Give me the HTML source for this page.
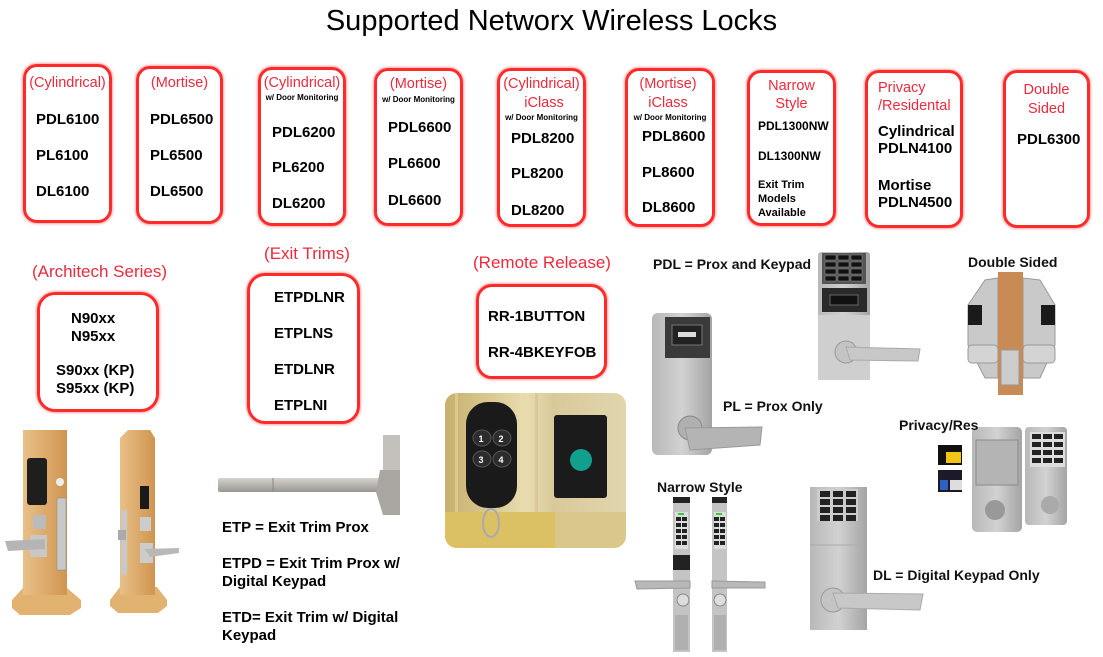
<!DOCTYPE html>
<html><head><meta charset="utf-8">
<style>
html,body{margin:0;padding:0;background:#fff}
#pg{position:relative;width:1103px;height:657px;overflow:hidden;background:#fff;font-family:"Liberation Sans",Arial,sans-serif}
.box{position:absolute;box-sizing:border-box;border:3px solid #ff2b2b;border-radius:14px;box-shadow:0 0 2px 1px rgba(255,90,90,.55)}
.t{position:absolute;white-space:nowrap;line-height:20px;font-family:"Liberation Sans",Arial,sans-serif}
.b{font-weight:bold;font-size:15px;color:#000}
.r{color:#ec2a3c;font-size:14.5px;text-align:center}
.s{font-weight:bold;font-size:8px;color:#000;text-align:center}
.sec{color:#ec2a3c;font-size:17px;text-align:center}
.k{font-weight:bold;font-size:14px;color:#111}
svg{position:absolute;left:0;top:0}
</style></head><body>
<div id="pg">
<svg width="1103" height="657" viewBox="0 0 1103 657">
<defs>
<linearGradient id="wood" x1="0" x2="1" y1="0" y2="0"><stop offset="0" stop-color="#e9c088"/><stop offset="1" stop-color="#d09550"/></linearGradient>
<linearGradient id="bar" x1="0" x2="0" y1="0" y2="1"><stop offset="0" stop-color="#d6d2ce"/><stop offset="1" stop-color="#9a9692"/></linearGradient>
<linearGradient id="metal" x1="0" x2="1" y1="0" y2="0"><stop offset="0" stop-color="#b8b8b8"/><stop offset=".5" stop-color="#d2d2d2"/><stop offset="1" stop-color="#a4a4a4"/></linearGradient>
<linearGradient id="gold" x1="0" x2="1" y1="0" y2="0"><stop offset="0" stop-color="#c8b06c"/><stop offset=".45" stop-color="#e8dcb0"/><stop offset=".6" stop-color="#d9c99a"/><stop offset="1" stop-color="#e2d6ae"/></linearGradient>
<clipPath id="rc"><rect x="445" y="393" width="181" height="155" rx="12"/></clipPath>
</defs>

<!-- wood lock left -->
<polygon points="12,600 23,588 67,588 81,600 81,608 70,615 20,615 12,608" fill="#e2b271"/>
<rect x="23" y="430" width="44" height="165" fill="url(#wood)"/>
<rect x="27" y="458" width="20" height="47" rx="3" fill="#1e1e1e"/>
<circle cx="60" cy="482" r="4" fill="#eee"/>
<rect x="57" y="498" width="9" height="72" fill="#c8c8c8" stroke="#888" stroke-width="0.5"/>
<rect x="33" y="515" width="13" height="14" fill="#bbb"/>
<rect x="30" y="535" width="17" height="22" fill="#c8c8c8"/>
<path d="M5,541 L45,539 L45,549 L8,551 Z" fill="#b5b5b5"/>

<!-- wood lock right -->
<polygon points="110,600 120,587 157,587 167,600 167,606 158,613 118,613 110,606" fill="#e2b271"/>
<path d="M120,438 L128,430 L150,430 L155,438 L155,595 L120,595 Z" fill="url(#wood)"/>
<rect x="121" y="510" width="6" height="65" fill="#c8c8c8"/>
<rect x="118" y="530" width="8" height="10" fill="#aaa"/>
<rect x="140" y="486" width="9" height="23" fill="#1a1a1a"/>
<rect x="140" y="517" width="11" height="14" fill="#ccc"/>
<rect x="140" y="543" width="13" height="20" fill="#ccc"/>
<path d="M145,549 L179,548 L179,553 L150,557 Z" fill="#b8b8b8"/>

<!-- exit bar -->
<rect x="218" y="478" width="166" height="14" rx="2" fill="url(#bar)"/>
<line x1="273" y1="478" x2="273" y2="492" stroke="#888"/>
<rect x="383" y="435" width="17" height="35" fill="#c4c0bc"/>
<polygon points="380,470 400,470 400,515 383,515 376,492" fill="#aaa6a2"/>

<!-- remote -->
<g clip-path="url(#rc)">
<rect x="445" y="393" width="181" height="155" fill="url(#gold)"/>
<rect x="455" y="393" width="3" height="119" fill="#e6d6a0" opacity=".6"/>
<rect x="520" y="393" width="4" height="119" fill="#eadcae" opacity=".6"/>
<rect x="535" y="393" width="3" height="119" fill="#d5c28a" opacity=".6"/>
<rect x="445" y="512" width="110" height="36" fill="#dcc064"/>
<rect x="555" y="512" width="71" height="36" fill="#d8c88c"/>
</g>
<rect x="466" y="402" width="51" height="106" rx="22" fill="#1a1a1a"/>
<ellipse cx="482" cy="438" rx="9" ry="8" fill="#2c2c2c" stroke="#555"/>
<ellipse cx="502" cy="438" rx="9" ry="8" fill="#2c2c2c" stroke="#555"/>
<ellipse cx="482" cy="459" rx="9" ry="8" fill="#2c2c2c" stroke="#555"/>
<ellipse cx="502" cy="459" rx="9" ry="8" fill="#2c2c2c" stroke="#555"/>
<text x="481" y="442" font-family="Liberation Sans" font-weight="bold" font-size="9" fill="#fff" text-anchor="middle">1</text>
<text x="501" y="442" font-family="Liberation Sans" font-weight="bold" font-size="9" fill="#fff" text-anchor="middle">2</text>
<text x="481" y="463" font-family="Liberation Sans" font-weight="bold" font-size="9" fill="#fff" text-anchor="middle">3</text>
<text x="501" y="463" font-family="Liberation Sans" font-weight="bold" font-size="9" fill="#fff" text-anchor="middle">4</text>
<ellipse cx="491" cy="523" rx="8" ry="14" fill="none" stroke="#aaa" stroke-width="2"/>
<rect x="554" y="415" width="53" height="83" rx="3" fill="#1b1b1b"/>
<circle cx="581" cy="460" r="11" fill="#12a08e"/>

<!-- PL lock -->
<rect x="652" y="313" width="60" height="142" rx="6" fill="url(#metal)"/>
<rect x="665" y="317" width="45" height="41" fill="#3a3a3a"/>
<rect x="672" y="325" width="30" height="20" fill="#222" stroke="#777"/>
<rect x="678" y="332" width="18" height="5" fill="#ddd"/>
<circle cx="690" cy="428" r="12" fill="#b0b0b0" stroke="#888"/>
<polygon points="685,428 762,427 760,445 690,450" fill="#b4b4b4" stroke="#999"/>

<!-- PDL lock -->
<rect x="818" y="252" width="52" height="128" rx="3" fill="url(#metal)"/>
<rect x="822" y="253" width="44" height="31" fill="#555"/>
<g fill="#111" stroke="#999" stroke-width=".5">
<rect x="825" y="255" width="11" height="5"/><rect x="838" y="255" width="11" height="5"/><rect x="851" y="255" width="11" height="5"/>
<rect x="825" y="262" width="11" height="5"/><rect x="838" y="262" width="11" height="5"/><rect x="851" y="262" width="11" height="5"/>
<rect x="825" y="269" width="11" height="5"/><rect x="838" y="269" width="11" height="5"/><rect x="851" y="269" width="11" height="5"/>
<rect x="825" y="276" width="11" height="5"/><rect x="838" y="276" width="11" height="5"/><rect x="851" y="276" width="11" height="5"/>
</g>
<rect x="822" y="288" width="45" height="24" fill="#2a2a2a"/>
<rect x="830" y="295" width="28" height="10" fill="#111" stroke="#666"/>
<rect x="818" y="315" width="52" height="65" fill="#cfcfcf"/>
<circle cx="846" cy="352" r="11" fill="#c4c4c4" stroke="#999"/>
<polygon points="846,347 920,349 918,361 850,360" fill="#c8c8c8" stroke="#aaa"/>

<!-- double sided -->
<polygon points="968,305 985,280 998,278 998,378 985,378 968,345" fill="#c9c9c9" stroke="#999"/>
<polygon points="1055,305 1040,280 1023,278 1023,378 1040,378 1055,345" fill="#c9c9c9" stroke="#999"/>
<rect x="968" y="305" width="14" height="20" fill="#1a1a1a"/>
<rect x="1041" y="305" width="14" height="20" fill="#1a1a1a"/>
<rect x="968" y="345" width="30" height="18" rx="4" fill="#d4d4d4" stroke="#999"/>
<rect x="1023" y="345" width="32" height="18" rx="4" fill="#d4d4d4" stroke="#999"/>
<rect x="998" y="272" width="25" height="123" fill="#c88b55"/>
<rect x="1001" y="350" width="18" height="35" fill="#ccc" stroke="#999"/>

<!-- privacy -->
<rect x="938" y="445" width="24" height="20" fill="#111"/>
<rect x="946" y="452" width="15" height="11" fill="#f3c316"/>
<rect x="938" y="470" width="24" height="22" fill="#1a1a2a"/>
<rect x="940" y="480" width="8" height="10" fill="#3060c0"/>
<rect x="950" y="480" width="12" height="10" fill="#ddd"/>
<rect x="972" y="427" width="50" height="105" rx="5" fill="url(#metal)"/>
<rect x="976" y="440" width="42" height="45" fill="#b4b4b4" stroke="#8a8a8a"/>
<circle cx="995" cy="510" r="10" fill="#999"/>
<rect x="1025" y="427" width="42" height="98" rx="4" fill="url(#metal)"/>
<rect x="1030" y="432" width="35" height="35" fill="#ddd"/>
<g fill="#222">
<rect x="1032" y="434" width="9" height="5"/><rect x="1043" y="434" width="9" height="5"/><rect x="1054" y="434" width="9" height="5"/>
<rect x="1032" y="442" width="9" height="5"/><rect x="1043" y="442" width="9" height="5"/><rect x="1054" y="442" width="9" height="5"/>
<rect x="1032" y="450" width="9" height="5"/><rect x="1043" y="450" width="9" height="5"/><rect x="1054" y="450" width="9" height="5"/>
<rect x="1032" y="458" width="9" height="5"/><rect x="1043" y="458" width="9" height="5"/><rect x="1054" y="458" width="9" height="5"/>
</g>
<circle cx="1050" cy="505" r="9" fill="#aaa"/>

<!-- narrow locks -->
<rect x="673" y="497" width="17" height="155" fill="#c4c4c4"/>
<rect x="673" y="497" width="17" height="6" fill="#222"/>
<rect x="675" y="512" width="13" height="37" fill="#ddd"/>
<rect x="678" y="513" width="6" height="2" fill="#3c3"/>
<g fill="#222">
<rect x="676" y="517" width="5" height="4"/><rect x="682" y="517" width="5" height="4"/>
<rect x="676" y="523" width="5" height="4"/><rect x="682" y="523" width="5" height="4"/>
<rect x="676" y="529" width="5" height="4"/><rect x="682" y="529" width="5" height="4"/>
<rect x="676" y="535" width="5" height="4"/><rect x="682" y="535" width="5" height="4"/>
<rect x="676" y="541" width="5" height="4"/><rect x="682" y="541" width="5" height="4"/>
</g>
<rect x="673" y="555" width="17" height="15" fill="#222"/>
<polygon points="635,581 690,581 690,588 637,589" fill="#b8b8b8" stroke="#999"/>
<circle cx="683" cy="600" r="6" fill="#ddd" stroke="#888"/>
<rect x="675" y="615" width="13" height="35" fill="#b0b0b0"/>
<rect x="712" y="497" width="15" height="155" fill="#c4c4c4"/>
<rect x="712" y="497" width="15" height="6" fill="#222"/>
<rect x="714" y="512" width="12" height="37" fill="#ddd"/>
<rect x="716" y="513" width="6" height="2" fill="#3c3"/>
<g fill="#222">
<rect x="714" y="517" width="5" height="4"/><rect x="720" y="517" width="5" height="4"/>
<rect x="714" y="523" width="5" height="4"/><rect x="720" y="523" width="5" height="4"/>
<rect x="714" y="529" width="5" height="4"/><rect x="720" y="529" width="5" height="4"/>
<rect x="714" y="535" width="5" height="4"/><rect x="720" y="535" width="5" height="4"/>
<rect x="714" y="541" width="5" height="4"/><rect x="720" y="541" width="5" height="4"/>
</g>
<polygon points="712,581 765,582 765,588 712,588" fill="#b8b8b8" stroke="#999"/>
<circle cx="720" cy="600" r="6" fill="#ddd" stroke="#888"/>
<rect x="714" y="615" width="12" height="35" fill="#b0b0b0"/>

<!-- DL lock -->
<rect x="810" y="487" width="57" height="143" fill="url(#metal)"/>
<rect x="817" y="489" width="41" height="32" fill="#ccc"/>
<g fill="#222">
<rect x="820" y="491" width="10" height="6"/><rect x="833" y="491" width="10" height="6"/><rect x="846" y="491" width="10" height="6"/>
<rect x="820" y="499" width="10" height="6"/><rect x="833" y="499" width="10" height="6"/><rect x="846" y="499" width="10" height="6"/>
<rect x="820" y="507" width="10" height="6"/><rect x="833" y="507" width="10" height="6"/><rect x="846" y="507" width="10" height="6"/>
<rect x="820" y="515" width="10" height="6"/><rect x="833" y="515" width="10" height="6"/><rect x="846" y="515" width="10" height="6"/>
</g>
<line x1="810" y1="545" x2="867" y2="545" stroke="#aaa"/>
<circle cx="833" cy="600" r="12" fill="#c4c4c4" stroke="#999"/>
<polygon points="833,593 923,594 920,610 838,608" fill="#c8c8c8" stroke="#aaa"/>
</svg>

<!-- title -->
<div class="t" style="left:0;width:1103px;text-align:center;top:4px;font-size:29px;line-height:34px;color:#000">Supported Networx Wireless Locks</div>

<!-- boxes -->
<div class="box" style="left:23px;top:64px;width:89px;height:159px"></div>
<div class="box" style="left:136px;top:66px;width:87px;height:158px"></div>
<div class="box" style="left:258px;top:67px;width:88px;height:159px"></div>
<div class="box" style="left:374px;top:68px;width:89px;height:158px"></div>
<div class="box" style="left:497px;top:68px;width:89px;height:159px"></div>
<div class="box" style="left:625px;top:68px;width:90px;height:159px"></div>
<div class="box" style="left:747px;top:70px;width:89px;height:156px"></div>
<div class="box" style="left:865px;top:70px;width:98px;height:158px"></div>
<div class="box" style="left:1003px;top:70px;width:87px;height:158px"></div>
<div class="box" style="left:37px;top:292px;width:122px;height:120px;border-radius:18px"></div>
<div class="box" style="left:247px;top:273px;width:113px;height:151px;border-radius:18px"></div>
<div class="box" style="left:476px;top:284px;width:131px;height:95px;border-radius:16px"></div>

<!-- red labels -->
<div class="t r" style="left:23px;width:89px;top:73px">(Cylindrical)</div>
<div class="t r" style="left:136px;width:87px;top:73px">(Mortise)</div>
<div class="t r" style="left:258px;width:88px;top:73px">(Cylindrical)</div>
<div class="t s" style="left:258px;width:88px;top:88px">w/ Door Monitoring</div>
<div class="t r" style="left:374px;width:89px;top:74px">(Mortise)</div>
<div class="t s" style="left:374px;width:89px;top:90px">w/ Door Monitoring</div>
<div class="t r" style="left:497px;width:89px;top:74px">(Cylindrical)</div>
<div class="t r" style="left:497px;width:94px;top:93px">iClass</div>
<div class="t s" style="left:497px;width:89px;top:108px">w/ Door Monitoring</div>
<div class="t r" style="left:625px;width:86px;top:74px">(Mortise)</div>
<div class="t r" style="left:625px;width:86px;top:93px">iClass</div>
<div class="t s" style="left:625px;width:90px;top:108px">w/ Door Monitoring</div>
<div class="t r" style="left:747px;width:89px;top:76px">Narrow</div>
<div class="t r" style="left:747px;width:89px;top:94px">Style</div>
<div class="t r" style="left:878px;top:78px;text-align:left">Privacy</div>
<div class="t r" style="left:878px;top:96px;text-align:left">/Residental</div>
<div class="t r" style="left:1003px;width:87px;top:80px">Double</div>
<div class="t r" style="left:1003px;width:87px;top:99px">Sided</div>

<!-- box content -->
<div class="t b" style="left:36px;top:110px">PDL6100</div>
<div class="t b" style="left:36px;top:146px">PL6100</div>
<div class="t b" style="left:36px;top:182px">DL6100</div>
<div class="t b" style="left:150px;top:110px">PDL6500</div>
<div class="t b" style="left:150px;top:146px">PL6500</div>
<div class="t b" style="left:150px;top:182px">DL6500</div>
<div class="t b" style="left:272px;top:123px">PDL6200</div>
<div class="t b" style="left:272px;top:158px">PL6200</div>
<div class="t b" style="left:272px;top:194px">DL6200</div>
<div class="t b" style="left:388px;top:118px">PDL6600</div>
<div class="t b" style="left:388px;top:154px">PL6600</div>
<div class="t b" style="left:388px;top:191px">DL6600</div>
<div class="t b" style="left:511px;top:129px">PDL8200</div>
<div class="t b" style="left:511px;top:164px">PL8200</div>
<div class="t b" style="left:511px;top:201px">DL8200</div>
<div class="t b" style="left:642px;top:127px">PDL8600</div>
<div class="t b" style="left:642px;top:163px">PL8600</div>
<div class="t b" style="left:642px;top:198px">DL8600</div>
<div class="t b" style="left:758px;top:116px;font-size:12px">PDL1300NW</div>
<div class="t b" style="left:758px;top:146px;font-size:12px">DL1300NW</div>
<div class="t b" style="left:758px;top:175px;font-size:11px">Exit Trim</div>
<div class="t b" style="left:758px;top:189px;font-size:11px">Models</div>
<div class="t b" style="left:758px;top:203px;font-size:11px">Available</div>
<div class="t b" style="left:878px;top:122px">Cylindrical</div>
<div class="t b" style="left:878px;top:139px">PDLN4100</div>
<div class="t b" style="left:878px;top:176px">Mortise</div>
<div class="t b" style="left:878px;top:193px">PDLN4500</div>
<div class="t b" style="left:1017px;top:130px">PDL6300</div>

<!-- section labels -->
<div class="t sec" style="left:20px;width:159px;top:262px">(Architech Series)</div>
<div class="t sec" style="left:240px;width:134px;top:244px">(Exit Trims)</div>
<div class="t sec" style="left:470px;width:144px;top:253px">(Remote Release)</div>

<div class="t b" style="left:71px;top:309px">N90xx</div>
<div class="t b" style="left:71px;top:327px">N95xx</div>
<div class="t b" style="left:56px;top:361px">S90xx (KP)</div>
<div class="t b" style="left:56px;top:379px">S95xx (KP)</div>

<div class="t b" style="left:274px;top:288px">ETPDLNR</div>
<div class="t b" style="left:274px;top:324px">ETPLNS</div>
<div class="t b" style="left:274px;top:360px">ETDLNR</div>
<div class="t b" style="left:274px;top:396px">ETPLNI</div>

<div class="t b" style="left:488px;top:307px">RR-1BUTTON</div>
<div class="t b" style="left:488px;top:343px">RR-4BKEYFOB</div>

<div class="t b" style="left:222px;top:518px">ETP = Exit Trim Prox</div>
<div class="t b" style="left:222px;top:554px">ETPD = Exit Trim Prox w/</div>
<div class="t b" style="left:222px;top:572px">Digital Keypad</div>
<div class="t b" style="left:222px;top:608px">ETD= Exit Trim w/ Digital</div>
<div class="t b" style="left:222px;top:626px">Keypad</div>

<div class="t k" style="left:653px;top:254px">PDL = Prox and Keypad</div>
<div class="t k" style="left:723px;top:396px">PL = Prox Only</div>
<div class="t k" style="left:968px;top:252px">Double Sided</div>
<div class="t k" style="left:899px;top:415px">Privacy/Res</div>
<div class="t k" style="left:657px;top:477px">Narrow Style</div>
<div class="t k" style="left:873px;top:565px">DL = Digital Keypad Only</div>
</div>
</body></html>
